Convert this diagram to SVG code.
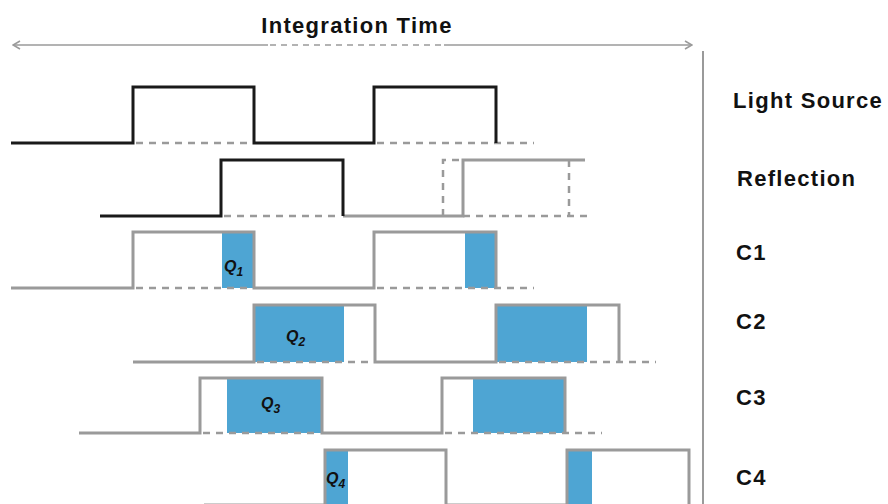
<svg xmlns="http://www.w3.org/2000/svg" width="888" height="504" viewBox="0 0 888 504">
<defs>
<style>
.bk{fill:none;stroke:#1a1a1a;stroke-width:3}
.gr{fill:none;stroke:#9a9a9a;stroke-width:3}
.ds{fill:none;stroke:#9a9a9a;stroke-width:2.5;stroke-dasharray:7 6}
.q{fill:#4ea5d3}
.lbl{font-family:"Liberation Sans",Arial,sans-serif;font-weight:bold;font-size:22px;letter-spacing:1.3px;fill:#111}
.ql{font-family:"Liberation Sans",Arial,sans-serif;font-weight:bold;font-style:italic;font-size:16px;fill:#111}
.ql tspan{font-size:12px}
</style>
<marker id="ah" viewBox="0 0 10 10" refX="9" refY="5" markerWidth="10" markerHeight="10" markerUnits="userSpaceOnUse" orient="auto-start-reverse">
<path d="M2,1 L9,5 L2,9" fill="none" stroke="#9a9a9a" stroke-width="1.6"/>
</marker>
</defs>
<rect width="888" height="504" fill="#fff"/>
<g id="header">
<text class="lbl" x="357" y="33" text-anchor="middle">Integration Time</text>
<line x1="13" y1="45" x2="268" y2="45" stroke="#9a9a9a" stroke-width="1.6" marker-start="url(#ah)"/>
<line x1="270" y1="45" x2="444" y2="45" stroke="#9a9a9a" stroke-width="1.6" stroke-dasharray="6 5"/>
<line x1="444" y1="45" x2="692" y2="45" stroke="#9a9a9a" stroke-width="1.6" marker-end="url(#ah)"/>
<line x1="703" y1="51" x2="703" y2="504" stroke="#9a9a9a" stroke-width="2"/>
</g>
<g id="light-source">
<path class="ds" d="M136,143 H252 M377,143 H534"/>
<path class="bk" d="M11,143 H133 V87 H254 V143 H374 V87 H496 V143"/>
<text class="lbl" x="733" y="108">Light Source</text>
</g>
<g id="reflection">
<path class="ds" d="M224,216 H341 M463,216 H590 M443,216 V160 H463 M569,160 V216"/>
<path class="gr" d="M343,216 H463 V160 H585"/>
<path class="bk" d="M100,216 H221 V160 H343 V216"/>
<text class="lbl" x="737" y="186">Reflection</text>
</g>
<g id="c1">
<rect class="q" x="222" y="232" width="32" height="56"/>
<rect class="q" x="465" y="232" width="31" height="56"/>
<path class="ds" d="M136,288 H252 M377,288 H534"/>
<path class="gr" d="M11,288 H133 V232 H254 V288 H374 V232 H496 V288"/>
<text class="ql" x="224" y="272">Q<tspan dy="4">1</tspan></text>
<text class="lbl" x="736" y="260">C1</text>
</g>
<g id="c2">
<rect class="q" x="254" y="305" width="90" height="57"/>
<rect class="q" x="496" y="305" width="91" height="57"/>
<path class="ds" d="M257,362 H373 M499,362 H656"/>
<path class="gr" d="M133,362 H254 V305 H375 V362 H496 V305 H619 V362"/>
<text class="ql" x="286" y="342">Q<tspan dy="4">2</tspan></text>
<text class="lbl" x="736" y="329">C2</text>
</g>
<g id="c3">
<rect class="q" x="227" y="378" width="95" height="55"/>
<rect class="q" x="473" y="378" width="92" height="55"/>
<path class="ds" d="M203,433 H320 M445,433 H602"/>
<path class="gr" d="M79,433 H200 V378 H322 V433 H442 V378 H565 V433"/>
<text class="ql" x="261" y="409">Q<tspan dy="4">3</tspan></text>
<text class="lbl" x="736" y="405">C3</text>
</g>
<g id="c4">
<rect class="q" x="325" y="450" width="23" height="56"/>
<rect class="q" x="567" y="450" width="25" height="56"/>
<path class="gr" d="M204,505 H325 V450 H446 V505 H567 V450 H689 V505"/>
<text class="ql" x="326" y="484">Q<tspan dy="4">4</tspan></text>
<text class="lbl" x="736" y="485">C4</text>
</g>
</svg>
